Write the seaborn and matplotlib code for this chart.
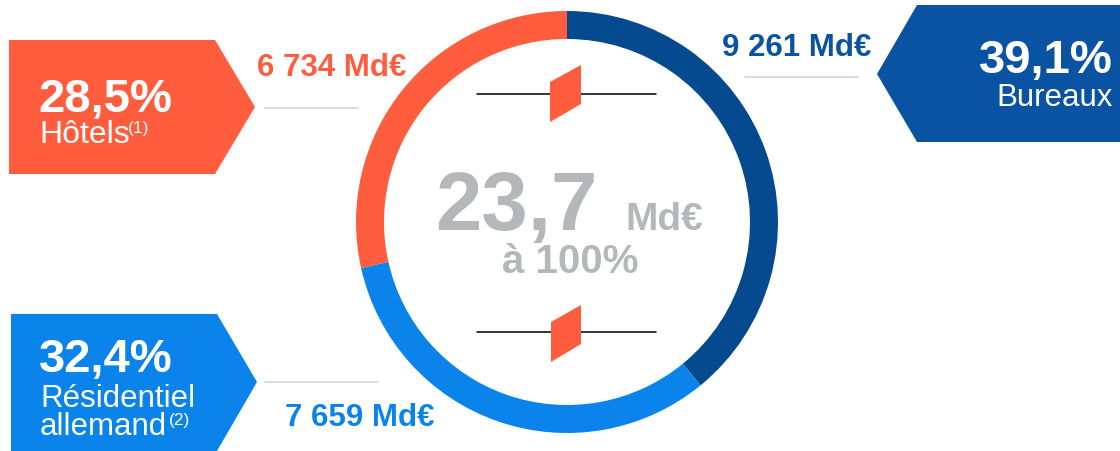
import matplotlib
matplotlib.use("Agg")
import matplotlib.pyplot as plt
from matplotlib.patches import Polygon
import seaborn as sns

# Data
categories = ['Bureaux', 'Résidentiel allemand', 'Hôtels']
shares = [39.1, 32.4, 28.5]
share_labels = ['39,1%', '32,4%', '28,5%']
amounts = ['9 261 Md€', '7 659 Md€', '6 734 Md€']
total_label = '23,7'
total_unit = 'Md€'
total_note = 'à 100%'

# Colours
ring_colors = ['#054a8e', '#0a84ea', '#ff5d3e']
box_colors = ['#0a53a3', '#0a84ea', '#ff5d3e']
gray = '#b4b8bb'
rule = '#d0d5d9'

sns.set_theme(style="white")
plt.rcParams['font.family'] = ['Liberation Sans', 'DejaVu Sans']

H = 452  # figure height in px, used to flip image y to data y


def Y(y):
    return H - y


fig = plt.figure(figsize=(11.2, 4.52), dpi=100)
ax = fig.add_axes([0, 0, 1, 1])

# Donut ring
ax.pie(shares, colors=ring_colors, startangle=90, counterclock=False,
       radius=211, center=(567, Y(223)),
       wedgeprops=dict(width=28, edgecolor='none', linewidth=0))

ax.set_xlim(0, 1120)
ax.set_ylim(0, H)
ax.set_aspect('auto')
ax.axis('off')

# Arrow shaped label boxes
def box(pts, color):
    ax.add_patch(Polygon([(x, Y(y)) for x, y in pts], closed=True,
                         facecolor=color, edgecolor='none', zorder=3))

box([(9, 41), (215, 41), (255, 108), (215, 175), (9, 175)], box_colors[2])
box([(11, 315), (217, 315), (257, 383), (217, 452), (11, 452)], box_colors[1])
box([(1120, 6), (917, 6), (877, 75), (917, 143), (1120, 143)], box_colors[0])

white = dict(color='white', zorder=4)

# Hôtels
ax.text(38, Y(112), share_labels[2], fontsize=34, fontweight='bold', va='baseline', **white)
ax.text(39, Y(143), 'Hôtels', fontsize=23, va='baseline', **white)
ax.text(128, Y(121), '(1)', fontsize=12.5, va='top', **white)

# Résidentiel allemand
ax.text(39, Y(372), share_labels[1], fontsize=34, fontweight='bold', va='baseline', **white)
ax.text(40, Y(407), 'Résidentiel', fontsize=22.5, va='baseline', **white)
ax.text(40, Y(435), 'allemand', fontsize=22.5, va='baseline', **white)
ax.text(169, Y(413), '(2)', fontsize=12.5, va='top', **white)

# Bureaux
ax.text(1113, Y(73), share_labels[0], fontsize=34, fontweight='bold', ha='right', va='baseline', **white)
ax.text(1113, Y(106), 'Bureaux', fontsize=22.5, ha='right', va='baseline', **white)

# Amounts and grey rules
ax.text(722, Y(48), amounts[0], fontsize=22.5, fontweight='bold', color=box_colors[0], va='center')
ax.text(257, Y(68), amounts[2], fontsize=22.5, fontweight='bold', color=box_colors[2], va='center')
ax.text(285, Y(418), amounts[1], fontsize=22.5, fontweight='bold', color=box_colors[1], va='center')
ax.plot([745, 858], [Y(78), Y(78)], color=rule, lw=1.2)
ax.plot([265, 358], [Y(109), Y(109)], color=rule, lw=1.2)
ax.plot([265, 378], [Y(383), Y(383)], color=rule, lw=1.2)

# Centre text
ax.text(435, Y(230), total_label, fontsize=60, fontweight='bold', color=gray, va='baseline')
ax.text(625, Y(230), total_unit, fontsize=28, fontweight='bold', color=gray, va='baseline')
ax.text(570, Y(273), total_note, fontsize=29, fontweight='bold', color=gray, ha='center', va='baseline')

# Break marks
for ly, pts in [(95, [(550, 83), (581, 66), (581, 105), (550, 123)]),
                (333, [(551, 323), (581, 306), (581, 345), (551, 363)])]:
    ax.plot([477, 656], [Y(ly), Y(ly)], color='black', lw=1.1, zorder=2)
    box(pts, box_colors[2])

fig.savefig('out.png', dpi=100)
